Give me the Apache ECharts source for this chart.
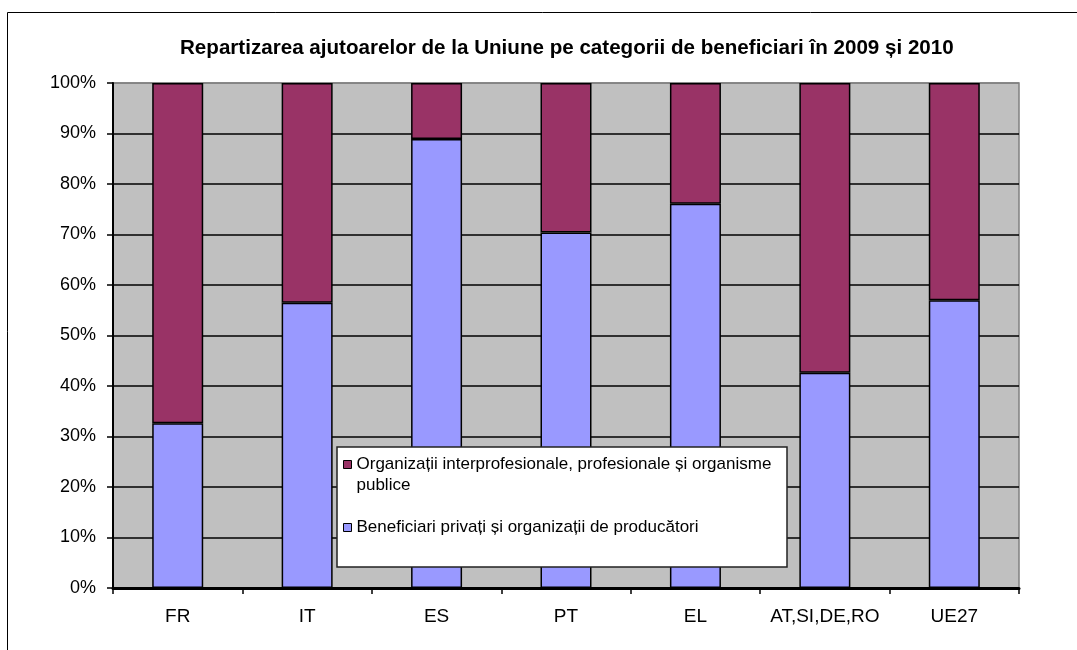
<!DOCTYPE html>
<html>
<head>
<meta charset="utf-8">
<script src="https://cdn.jsdelivr.net/npm/echarts@6/dist/echarts.min.js"></script>
<style>
  html, body { margin: 0; padding: 0; background: #fff; }
  #chart { width: 1077px; height: 650px; }
</style>
</head>
<body>
<div id="chart"></div>
<script>
const categories = ['FR', 'IT', 'ES', 'PT', 'EL', 'AT,SI,DE,RO', 'UE27']
// Beneficiari privați și organizații de producători (%)
const privateValues = [32.6, 56.5, 88.9, 70.4, 76.1, 42.6, 57.0]
// Organizații interprofesionale, profesionale și organisme publice (%)
const publicValues = [67.4, 43.5, 11.1, 29.6, 23.9, 57.4, 43.0]
const yTicks = [0, 10, 20, 30, 40, 50, 60, 70, 80, 90, 100]

const namePublic = 'Organizații interprofesionale, profesionale și organisme publice'
const namePrivate = 'Beneficiari privați și organizații de producători'
const FONT = '"Liberation Sans", Arial, sans-serif'

const chart = echarts.init(document.getElementById('chart'))

// gridline at 100% is the grey plot border, the rest are black
const gridColors = yTicks.map((t) => (t === 100 ? '#808080' : '#000'))

chart.setOption({
  animation: false,
  backgroundColor: '#ffffff',
  title: {
    text: 'Repartizarea ajutoarelor de la Uniune pe categorii de beneficiari în 2009 și 2010',
    left: 180,
    top: 38,
    padding: 0,
    textStyle: { fontFamily: FONT, fontSize: 20.6, fontWeight: 'bold', color: '#000' },
  },
  grid: {
    left: 113,
    right: 58,
    top: 83,
    bottom: 62,
    show: true,
    backgroundColor: '#C0C0C0',
    borderColor: '#808080',
    borderWidth: 1.5,
  },
  legend: {
    orient: 'vertical',
    left: 343,
    top: 433,
    z: 60,
    icon: 'rect',
    itemWidth: 8,
    itemHeight: 8,
    itemGap: 21,
    textGap: 6,
    padding: 0,
    textStyle: { fontFamily: FONT, fontSize: 17, lineHeight: 21, color: '#000' },
    itemStyle: { borderColor: '#000', borderWidth: 1 },
    data: [namePublic, namePrivate],
    formatter: function (name) {
      if (name === namePublic) {
        return '\nOrganizații interprofesionale, profesionale și organisme\npublice'
      }
      return name
    },
  },
  graphic: [
    {
      type: 'rect',
      z: 0,
      shape: { x: 7.5, y: 12.5, width: 1200, height: 1000 },
      style: { fill: 'none', stroke: '#000', lineWidth: 1 },
      silent: true,
    },
    {
      type: 'rect',
      z: 50,
      shape: { x: 337, y: 447, width: 450, height: 120 },
      style: { fill: '#ffffff', stroke: '#222', lineWidth: 1.5 },
      silent: true,
    },
  ],
  xAxis: {
    type: 'category',
    data: categories,
    axisLine: { lineStyle: { color: '#000', width: 3 } },
    axisTick: { show: true, interval: 0, alignWithLabel: false, length: 6, lineStyle: { color: '#000', width: 1.5 } },
    axisLabel: { interval: 0, margin: 19, fontFamily: FONT, fontSize: 19, color: '#000' },
    splitLine: { show: false },
  },
  yAxis: {
    type: 'value',
    min: 0,
    max: 100,
    interval: 10,
    axisLine: { show: true, lineStyle: { color: '#000', width: 2 } },
    axisTick: { show: true, length: 6, lineStyle: { color: '#000', width: 1.5 } },
    axisLabel: { margin: 17, fontFamily: FONT, fontSize: 18, color: '#000', formatter: '{value}%' },
    splitLine: { show: true, lineStyle: { color: gridColors, width: 1.5 } },
  },
  series: [
    {
      name: namePrivate,
      type: 'bar',
      stack: 'total',
      barWidth: 51,
      data: privateValues,
      itemStyle: { color: '#9999FF', borderColor: '#000', borderWidth: 1.5 },
    },
    {
      name: namePublic,
      type: 'bar',
      stack: 'total',
      barWidth: 51,
      data: publicValues,
      itemStyle: { color: '#993366', borderColor: '#000', borderWidth: 1.5 },
    },
  ],
})
</script>
</body>
</html>
